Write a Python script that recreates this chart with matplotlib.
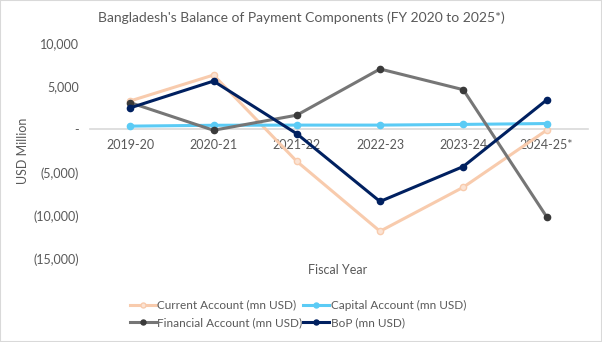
import matplotlib
matplotlib.use("Agg")
import matplotlib.pyplot as plt
from matplotlib.ticker import FuncFormatter, MultipleLocator
from matplotlib.patches import Rectangle

categories = ["2019-20", "2020-21", "2021-22", "2022-23", "2023-24", "2024-25*"]
current_account = [3300, 6300, -3700, -11800, -6700, -100]
capital_account = [380, 480, 500, 500, 580, 680]
financial_account = [3100, -100, 1650, 7000, 4600, -10100]
bop = [2500, 5600, -500, -8350, -4300, 3400]

plt.rcParams['font.family'] = ['Lato', 'DejaVu Sans']
txt = '#595959'

fig = plt.figure(figsize=(6.02, 3.42), dpi=100)
fig.patches.append(Rectangle((0, 0), 1, 1, transform=fig.transFigure, fill=False,
                             edgecolor='#d9d9d9', linewidth=1.5))
ax = fig.add_axes([0.15, 0.243, 0.827, 0.631])

x = list(range(len(categories)))
h1, = ax.plot(x, current_account, color='#F8CBAD', lw=2.2, marker='o', ms=4.5,
              mfc='#FBE3D4', mec='#F8CBAD', label='Current Account (mn USD)', zorder=3)
h2, = ax.plot(x, capital_account, color='#5BCBF5', lw=2.2, marker='o', ms=4.5,
              label='Capital Account (mn USD)', zorder=4)
h3, = ax.plot(x, financial_account, color='#767676', lw=2.2, marker='o', ms=4.5,
              mfc='#3a3a3a', mec='#3a3a3a', label='Financial Account (mn USD)', zorder=5)
h4, = ax.plot(x, bop, color='#002060', lw=2.2, marker='o', ms=4.5,
              label='BoP (mn USD)', zorder=6)

ax.set_xlim(-0.48, 5.5)
ax.set_ylim(-15000, 10000)
ax.yaxis.set_major_locator(MultipleLocator(5000))

def fmt(v, pos):
    if abs(v) < 1e-6:
        return '-'
    if v < 0:
        return '({:,.0f})'.format(-v)
    return '{:,.0f}'.format(v)

ax.yaxis.set_major_formatter(FuncFormatter(fmt))
ax.set_xticks(x)
ax.set_xticklabels(categories)

for s in ['top', 'right', 'left']:
    ax.spines[s].set_visible(False)
ax.spines['bottom'].set_position(('data', 0))
ax.spines['bottom'].set_color('#d9d9d9')
ax.spines['bottom'].set_linewidth(1.2)
ax.spines['bottom'].set_zorder(1)
ax.tick_params(axis='x', length=0, pad=7, labelsize=9, labelcolor=txt)
ax.tick_params(axis='y', length=0, pad=8, labelsize=9, labelcolor=txt)

ax.set_ylabel('USD Million', fontsize=9, color=txt, labelpad=3)
fig.text(0.561, 1 - 270 / 342, 'Fiscal Year', ha='center', va='center', fontsize=9, color=txt)
fig.text(0.5, 1 - 18 / 342, "Bangladesh's Balance of Payment Components (FY 2020 to 2025*)",
         ha='center', va='center', fontsize=10, color=txt)

leg = fig.legend(handles=[h1, h3, h2, h4], loc='center', bbox_to_anchor=(0.495, 1 - 314 / 342),
                 ncol=2, frameon=False, fontsize=8.5, labelcolor=txt, handlelength=2.2,
                 handletextpad=0.1, columnspacing=0.1, labelspacing=0.55, markerscale=0.8)

fig.savefig('out.png', dpi=100)
